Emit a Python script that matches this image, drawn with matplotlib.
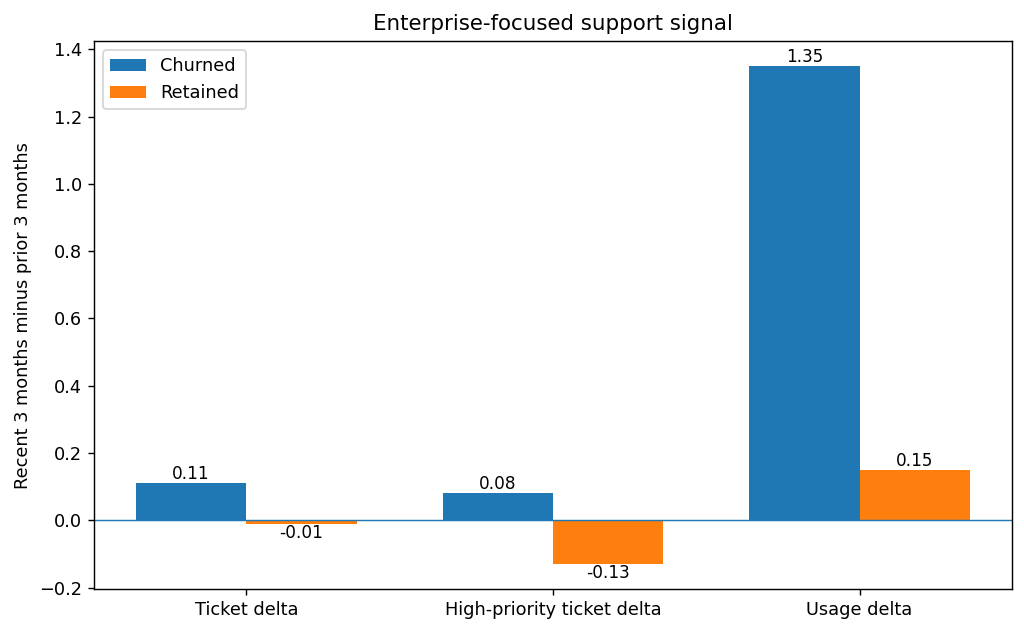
import matplotlib
matplotlib.use("Agg")
import matplotlib.pyplot as plt
import numpy as np

categories = ["Ticket delta", "High-priority ticket delta", "Usage delta"]
churned = [0.11, 0.08, 1.35]
retained = [-0.01, -0.13, 0.15]

fig, ax = plt.subplots(figsize=(8, 633/128), dpi=128)
x = np.arange(len(categories))
w = 0.36
b1 = ax.bar(x - w/2, churned, w, label="Churned")
b2 = ax.bar(x + w/2, retained, w, label="Retained")
ax.bar_label(b1, labels=[f"{v:.2f}" for v in churned], fontsize=9.5)
ax.bar_label(b2, labels=[f"{v:.2f}" for v in retained], fontsize=9.5)
ax.axhline(0, linewidth=0.8, color="C0")
ax.set_xticks(x)
ax.set_xticklabels(categories)
ax.set_ylabel("Recent 3 months minus prior 3 months")
ax.set_title("Enterprise-focused support signal")
ax.legend(loc="upper left")
fig.subplots_adjust(left=0.092, right=0.988, top=0.935, bottom=0.0695)
fig.savefig("out.png")
